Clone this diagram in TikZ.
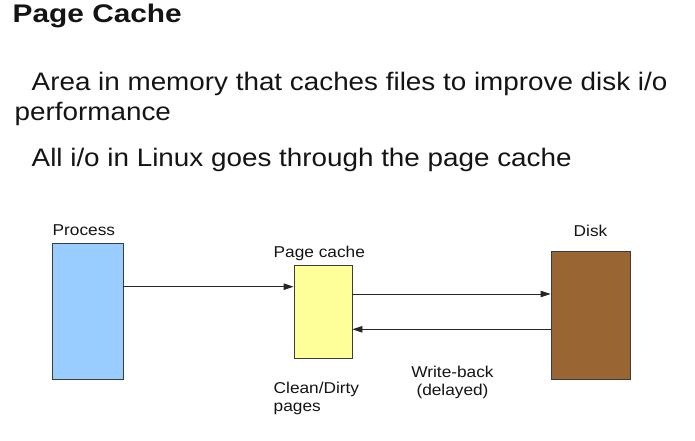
\documentclass[tikz,border=0pt]{standalone}
\usepackage{fontspec}
\setmainfont{Liberation Sans}[FakeStretch=1.1]
\newfontfamily\titlefont{Liberation Sans}[FakeStretch=1.17]
\usetikzlibrary{arrows.meta}
\definecolor{procblue}{RGB}{153,204,255}
\definecolor{cacheyel}{RGB}{255,255,153}
\definecolor{diskbrown}{RGB}{153,102,51}
\definecolor{edgegray}{RGB}{60,60,60}
\definecolor{txt}{RGB}{20,20,20}
\begin{document}
\begin{tikzpicture}[x=1pt,y=-1pt,
  box/.style={draw=edgegray,line width=0.9pt,inner sep=0pt},
  lbl/.style={inner sep=0pt,anchor=base west,text=txt,font=\fontsize{15.7}{17.5}\selectfont},
  bigtxt/.style={inner sep=0pt,anchor=base west,text=txt,font=\fontsize{25.3}{30}\selectfont},
  conn/.style={draw=black!85,line width=0.9pt,-{Triangle[length=10pt,width=6.5pt]}}]
\useasboundingbox (0,0) rectangle (695,441);
% texts
\node[inner sep=0pt,anchor=base west,text=txt,font=\titlefont\fontsize{25.5}{28}\selectfont\bfseries] (title) at (12.5,22.7) {Page Cache};
\node[bigtxt] (l1) at (31.5,91) {Area in memory that caches files to improve disk i/o};
\node[bigtxt] (l2) at (14.5,121) {performance};
\node[bigtxt] (l3) at (31.5,166) {All i/o in Linux goes through the page cache};
% boxes
\node[box,fill=procblue,minimum width=71pt,minimum height=136pt] (proc) at (87.5,311) {};
\node[box,fill=cacheyel,minimum width=58pt,minimum height=93pt] (cache) at (323,311.5) {};
\node[box,fill=diskbrown,minimum width=79pt,minimum height=128pt] (disk) at (590.5,315) {};
% labels
\node[lbl] (plab) at (52.5,235) {Process};
\node[lbl] (clab) at (273.5,257.7) {Page cache};
\node[lbl] (dlab) at (573.5,236) {Disk};
\node[lbl,align=left,anchor=north west] (cdlab) at (273.5,382) {Clean/Dirty\\pages};
\node[lbl,align=center,anchor=north] (wblab) at (452.5,366) {Write-back\\(delayed)};
% connectors
\coordinate (ya) at (0,286.7);
\coordinate (yb) at (0,294);
\coordinate (yc) at (0,329.3);
\draw[conn] (proc.east |- ya) -- (cache.west |- ya);
\draw[conn] (cache.east |- yb) -- (disk.west |- yb);
\draw[conn] (disk.west |- yc) -- (cache.east |- yc);
\end{tikzpicture}
\end{document}
